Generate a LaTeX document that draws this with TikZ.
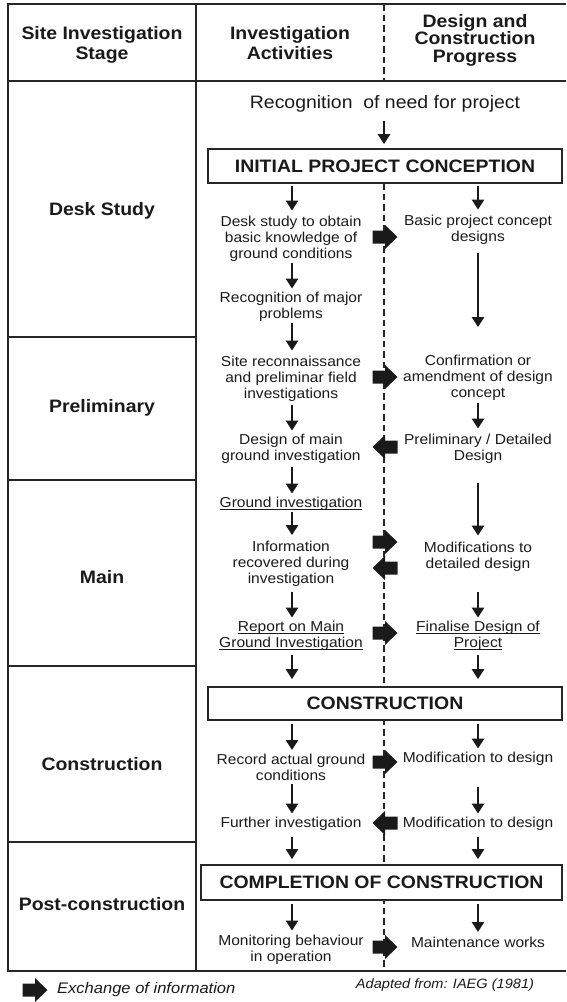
\documentclass[tikz,border=0pt]{standalone}
\usepackage{fontspec}
\setmainfont[FakeStretch=1.08]{Liberation Sans}
\usetikzlibrary{arrows.meta}
\definecolor{ink}{HTML}{1A1A1A}
\definecolor{linec}{HTML}{262626}
\newcommand\ulx[1]{\setbox0\hbox{#1}\rlap{\rule[-2.6pt]{\wd0}{0.9pt}}\box0}
\begin{document}
\begin{tikzpicture}[x=1pt,y=-1pt,
 body/.style={font=\fontsize{14.4}{16}\selectfont,align=center,inner sep=0pt,text=ink},
 stage/.style={font=\fontsize{18}{19.5}\selectfont\bfseries,align=center,inner sep=0pt,text=ink},
 bigbox/.style={draw=linec,line width=1.7pt,fill=white,font=\fontsize{18}{19.5}\selectfont\bfseries,text=ink,inner sep=0pt},
 frame/.style={draw=linec,line width=1.9pt},
 dashsep/.style={draw=linec,line width=2pt,dash pattern=on 6.5pt off 4pt},
 dn/.style={draw=ink,line width=2.6pt,-{Triangle[width=12pt,length=10pt]}},
 sh/.style 2 args={shorten <=#1pt,shorten >=#2pt},
 xr/.pic={\fill[ink] (-12.5,-6.5) -- (0,-6.5) -- (0,-12) -- (12.5,0) -- (0,12) -- (0,6.5) -- (-12.5,6.5) -- cycle;},
 xl/.pic={\fill[ink] (12.5,-6.5) -- (0,-6.5) -- (0,-12) -- (-12.5,0) -- (0,12) -- (0,6.5) -- (12.5,6.5) -- cycle;},
]
\useasboundingbox (0,0) rectangle (566,1002);
% column x positions
\coordinate (L) at (292,0);
\coordinate (R) at (478,0);
\coordinate (C) at (384,0);
% table frame
\draw[frame] (566,4) -- (8,4) -- (8,971) -- (566,971);
\draw[frame] (8,81) -- (566,81);
\draw[frame] (196,4) -- (196,971);
\foreach \yy in {337,480,666,842} \draw[frame] (8,\yy) -- (196,\yy);
\draw[dashsep] (384,4) -- (384,81);
\draw[dashsep] (384,183) -- (384,971);
% headers
\node[stage] (h1) at (102,45) {Site Investigation\\Stage};
\node[stage] (h2) at (290,43) {Investigation\\Activities};
\node[stage,font=\fontsize{18}{17.5}\selectfont\bfseries] (h3) at (475,40) {Design and\\Construction\\Progress};
% stages
\node[stage] (s1) at (102,211) {Desk Study};
\node[stage] (s2) at (102,408) {Preliminary};
\node[stage] (s3) at (102,577) {Main};
\node[stage] (s4) at (102,764) {Construction};
\node[stage] (s5) at (102,904) {Post-construction};
% boxes
\node[bigbox,minimum width=354pt,minimum height=34pt] (init) at (385,166) {INITIAL PROJECT CONCEPTION};
\node[bigbox,minimum width=354pt,minimum height=33pt] (cons) at (385,703.5) {CONSTRUCTION};
\node[bigbox,minimum width=361pt,minimum height=35pt] (comp) at (381.5,882.5) {COMPLETION OF CONSTRUCTION};
% top text
\node[body,font=\fontsize{18}{20}\selectfont] (rec) at (385,104) {Recognition~ of need for project};
% left column
\node[body] (ds) at (291,239) {Desk study to obtain\\basic knowledge of\\ground conditions};
\node[body] (rmp) at (291,307) {Recognition of major\\problems};
\node[body] (sr) at (291,379) {Site reconnaissance\\and preliminar field\\investigations};
\node[body] (dmg) at (291,449) {Design of main\\ground investigation};
\node[body] (gi) at (291,504) {\ulx{Ground investigation}};
\node[body] (info) at (291,564) {Information\\recovered during\\investigation};
\node[body] (rep) at (291,636) {\ulx{Report on Main}\\\ulx{Ground Investigation}};
\node[body] (rag) at (291,767) {Record actual ground\\conditions};
\node[body] (fi) at (291,824) {Further investigation};
\node[body] (mon) at (291,950) {Monitoring behaviour\\in operation};
% right column
\node[body] (bpc) at (478,230) {Basic project concept\\designs};
\node[body] (conf) at (478,378) {Confirmation or\\amendment of design\\concept};
\node[body] (pdd) at (478,449) {Preliminary / Detailed\\Design};
\node[body] (mod) at (478,557) {Modifications to\\detailed design};
\node[body] (fin) at (478,636) {\ulx{Finalise Design of}\\\ulx{Project}};
\node[body] (m1) at (478,759) {Modification to design};
\node[body] (m2) at (478,824) {Modification to design};
\node[body] (mw) at (478,942) {Maintenance works};
% legend
\node[body,font=\fontsize{15.3}{17}\selectfont\itshape,anchor=west] (leg) at (57,990) {Exchange of information};
\node[body,font=\fontsize{13.5}{15}\selectfont\itshape] (src) at (445,985) {Adapted from: IAEG (1981)};
% vertical flow arrows
\draw[dn,sh={8.5}{4}] (rec.south -| C) -- (init.north -| C);
\draw[dn,sh={2}{5.5}] (init.south -| L) -- (ds.north -| L);
\draw[dn,sh={1}{3.5}] (ds.south -| L) -- (rmp.north -| L);
\draw[dn,sh={1.5}{5.5}] (rmp.south -| L) -- (sr.north -| L);
\draw[dn,sh={3}{3.5}] (sr.south -| L) -- (dmg.north -| L);
\draw[dn,sh={3}{3.5}] (dmg.south -| L) -- (gi.north -| L);
\draw[dn,sh={1}{6}] (gi.south -| L) -- (info.north -| L);
\draw[dn,sh={5}{3.5}] (info.south -| L) -- (rep.north -| L);
\draw[dn,sh={4}{7}] (rep.south -| L) -- (cons.north -| L);
\draw[dn,sh={3}{3.5}] (cons.south -| L) -- (rag.north -| L);
\draw[dn,sh={4}{3.5}] (rag.south -| L) -- (fi.north -| L);
\draw[dn,sh={6}{5}] (fi.south -| L) -- (comp.north -| L);
\draw[dn,sh={3}{4.5}] (comp.south -| L) -- (mon.north -| L);
\draw[dn,sh={2}{5.5}] (init.south -| R) -- (bpc.north -| R);
\draw[dn,sh={8}{28}] (bpc.south -| R) -- (conf.north -| R);
\draw[dn,sh={2.5}{5.5}] (conf.south -| R) -- (pdd.north -| R);
\draw[dn,sh={19}{6.5}] (pdd.south -| R) -- (mod.north -| R);
\draw[dn,sh={20}{3.5}] (mod.south -| R) -- (fin.north -| R);
\draw[dn,sh={4}{7}] (fin.south -| R) -- (cons.north -| R);
\draw[dn,sh={3}{3.5}] (cons.south -| R) -- (m1.north -| R);
\draw[dn,sh={21}{3.5}] (m1.south -| R) -- (m2.north -| R);
\draw[dn,sh={6}{5}] (m2.south -| R) -- (comp.north -| R);
\draw[dn,sh={3}{4.5}] (comp.south -| R) -- (mw.north -| R);
% exchange of information arrows
\pic at (385,237) {xr};
\pic at (385,377) {xr};
\pic at (385,447) {xl};
\pic at (385,542) {xr};
\pic at (385,568) {xl};
\pic at (385,633) {xr};
\pic at (385,762) {xr};
\pic at (385,823) {xl};
\pic at (385,947) {xr};
\pic at (35,990) {xr};
\end{tikzpicture}
\end{document}
